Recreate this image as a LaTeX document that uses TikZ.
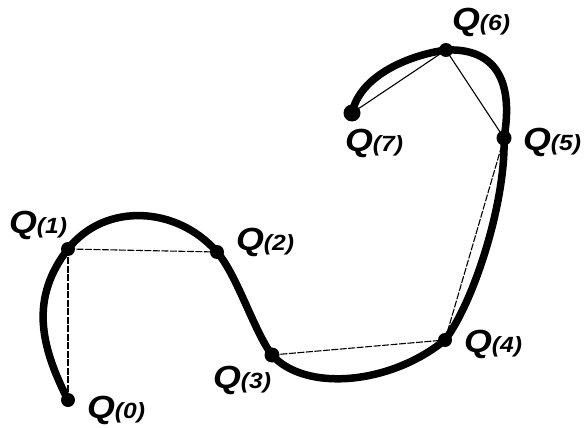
\documentclass[tikz,border=0pt]{standalone}
\usepackage{fontspec}
\setmainfont{Liberation Sans}
\newcommand{\qlab}[1]{{\fontsize{32}{32}\selectfont\bfseries\itshape Q}{\fontsize{22}{22}\selectfont\bfseries\itshape(#1)}}
\tikzset{
  curve/.style={line width=7.5pt, line cap=round},
  chord/.style={line width=1.1pt},
  brokenchord/.style={line width=1.1pt, dash pattern=on 7pt off 1.5pt},
  dot/.style={fill=black},
  qlabel/.style={inner sep=0pt, xscale=1.12}
}
\begin{document}
\begin{tikzpicture}[x=1pt,y=-1pt]
\useasboundingbox (0,0) rectangle (584,428);
\coordinate (q0) at (68,400);
\coordinate (q1) at (68,249);
\coordinate (q2) at (217,252);
\coordinate (q3) at (272,355);
\coordinate (q4) at (445,340);
\coordinate (q5) at (504,138);
\coordinate (q6) at (446,50);
\coordinate (q7) at (352,113);
% thick curve
\draw[curve] (q0) .. controls (40,345) and (30,298) .. (q1)
  .. controls (105,202) and (177,206) .. (q2)
  .. controls (237,275) and (254,331) .. (q3)
  .. controls (305,392) and (390,385) .. (q4)
  .. controls (475,300) and (506,200) .. (q5)
  .. controls (514,80) and (495,48) .. (q6)
  .. controls (410,55) and (360,75) .. (q7);
% chords
\draw[brokenchord] (q0) -- (q1);
\draw[brokenchord] (q1) -- (q2);
\draw[brokenchord] (q3) -- (q4);
\draw[brokenchord] (q4) -- (q5);
\draw[chord] (q5) -- (q6);
\draw[chord] (q6) -- (q7);
% points
\fill[dot] (q0) circle (7);
\fill[dot] (q1) circle (7);
\fill[dot] (q2) circle (7);
\fill[dot] (q3) circle (7.5);
\fill[dot] (q4) circle (7);
\fill[dot] (q5) circle (7.5);
\fill[dot] (q6) circle (7);
\fill[dot] (q7) circle (8.5);
% labels
\node[qlabel] (l0) at (116,410) {\qlab{0}};
\node[qlabel] (l1) at (38,225) {\qlab{1}};
\node[qlabel] (l2) at (265,242) {\qlab{2}};
\node[qlabel] (l3) at (242,380) {\qlab{3}};
\node[qlabel] (l4) at (493,344) {\qlab{4}};
\node[qlabel] (l5) at (552,142) {\qlab{5}};
\node[qlabel] (l6) at (481,22) {\qlab{6}};
\node[qlabel] (l7) at (374,143) {\qlab{7}};
\end{tikzpicture}
\end{document}
